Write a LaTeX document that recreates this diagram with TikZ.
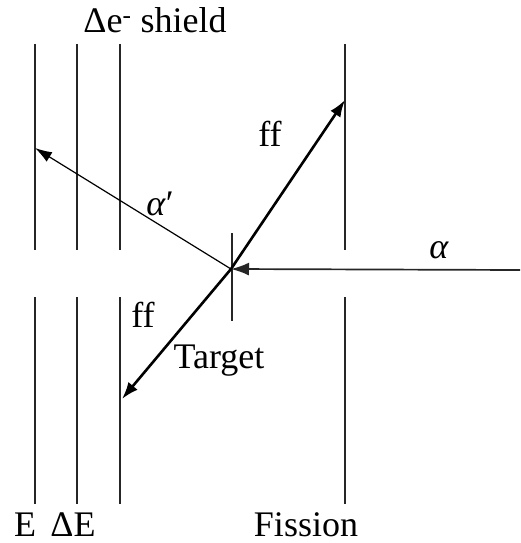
\documentclass[tikz,border=0pt]{standalone}
\usepackage{fontspec}
\setmainfont{Liberation Serif}
\usetikzlibrary{arrows.meta}
\begin{document}
\begin{tikzpicture}[x=1pt,y=-1pt]
\tikzset{lbl/.style={inner sep=0pt,anchor=base,font=\fontsize{36}{36}\selectfont},
	thinline/.style={black!85,line width=1.2pt},
	thinarrow/.style={black,line width=1.2pt,-{Latex[length=17pt,width=11pt]}},
	beamarrow/.style={black!85,line width=1.7pt,-{Latex[length=18pt,width=13pt]}},
	thickarrow/.style={black,line width=2.6pt,-{Latex[length=17pt,width=12pt]}}}
\useasboundingbox (0,0) rectangle (520,543);

\coordinate (E1) at (35,44);
\coordinate (E2) at (35,250);
\coordinate (E3) at (35,297);
\coordinate (E4) at (35,504);
\coordinate (D1) at (77,44);
\coordinate (D2) at (77,250);
\coordinate (D3) at (77,297);
\coordinate (D4) at (77,504);
\coordinate (S1) at (120,44);
\coordinate (S2) at (120,250);
\coordinate (S3) at (120,297);
\coordinate (S4) at (120,504);
\coordinate (F1) at (345,44);
\coordinate (F2) at (345,250);
\coordinate (F3) at (345,297);
\coordinate (F4) at (345,504);
\coordinate (T1) at (232,233);
\coordinate (T2) at (232,321);
\coordinate (O) at (231,269);
\coordinate (B) at (520,270);
\coordinate (A) at (35,148);
\coordinate (FF1) at (345,100);
\coordinate (FF2) at (122,399);

\draw[thinline] (E1) -- (E2);
\draw[thinline] (E3) -- (E4);
\draw[thinline] (D1) -- (D2);
\draw[thinline] (D3) -- (D4);
\draw[thinline] (S1) -- (S2);
\draw[thinline] (S3) -- (S4);
\draw[thinline] (F1) -- (F2);
\draw[thinline] (F3) -- (F4);
\draw[thinline] (T1) -- (T2);

\draw[thinarrow] (O) -- (A);
\draw[thickarrow] (O) -- (FF1);
\draw[thickarrow] (O) -- (FF2);
\draw[beamarrow] (B) -- (O);

\node[lbl] (shield) at (155,33) {Δe\textsuperscript{-} shield};
\node[lbl] (ffa) at (270,146) {ff};
\node[lbl] (ffb) at (143,327) {ff};
\node[lbl] (alpha) at (439,258) {\textit{α}};
\node[lbl] (alphap) at (160,215) {\textit{α}′};
\node[lbl] (target) at (219,368) {Target};
\node[lbl] (e) at (25,536) {E};
\node[lbl] (de) at (73,536) {ΔE};
\node[lbl] (fission) at (306,536) {Fission};
\end{tikzpicture}
\end{document}
